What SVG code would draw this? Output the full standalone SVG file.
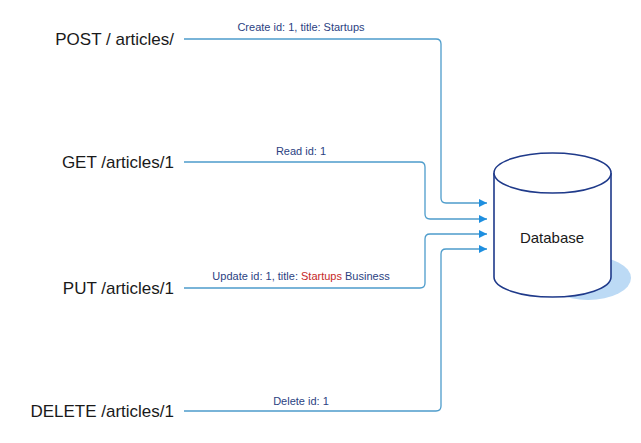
<svg xmlns="http://www.w3.org/2000/svg" width="641" height="443" viewBox="0 0 641 443">
<defs>
<style>
.lbl{font-family:"Liberation Sans",Arial,sans-serif;font-size:17px;fill:#1a1a1a;text-anchor:end}
.ed{font-family:"Liberation Sans",Arial,sans-serif;font-size:11px;fill:#2b3f82;text-anchor:middle}
.wire{fill:none;stroke:#4d9ccb;stroke-width:1.3}
.db{fill:#fff;stroke:#1f3a8a;stroke-width:1.6}
</style>
<marker id="arr" viewBox="0 0 10 10" refX="10" refY="5" markerWidth="8" markerHeight="8" markerUnits="userSpaceOnUse" orient="auto">
<path d="M0,0 L10,5 L0,10 z" fill="#1e8fe0"/>
</marker>
</defs>
<rect width="641" height="443" fill="#fff"/>
<g id="connectors">
<path class="wire" d="M184,39 H436 Q441,39 441,44 V198 Q441,203 446,203 H487" marker-end="url(#arr)"/>
<path class="wire" d="M184,162 H420 Q425,162 425,167 V214 Q425,219 430,219 H487" marker-end="url(#arr)"/>
<path class="wire" d="M184,288 H420 Q425,288 425,283 V239 Q425,234 430,234 H487" marker-end="url(#arr)"/>
<path class="wire" d="M184,411 H436 Q441,411 441,406 V254 Q441,249 446,249 H487" marker-end="url(#arr)"/>
<text class="ed" x="301" y="31">Create id: 1, title: Startups</text>
<text class="ed" x="301" y="155">Read id: 1</text>
<text class="ed" x="301" y="280">Update id: 1, title: <tspan fill="#c62828">Startups</tspan> Business</text>
<text class="ed" x="301" y="405">Delete id: 1</text>
</g>
<g id="post"><text class="lbl" x="174" y="45">POST / articles/</text></g>
<g id="get"><text class="lbl" x="174" y="168">GET /articles/1</text></g>
<g id="put"><text class="lbl" x="174" y="294">PUT /articles/1</text></g>
<g id="delete"><text class="lbl" x="174" y="417">DELETE /articles/1</text></g>
<g id="database">
<ellipse cx="588" cy="278" rx="43" ry="22" fill="#bcdaf5"/>
<path class="db" d="M494,173 V277 A58.5,20 0 0 0 611,277 V173"/>
<ellipse class="db" cx="552.5" cy="173" rx="58.5" ry="20"/>
<text x="552" y="243" font-family="'Liberation Sans',Arial,sans-serif" font-size="15" fill="#1a1a1a" text-anchor="middle">Database</text>
</g>
</svg>
